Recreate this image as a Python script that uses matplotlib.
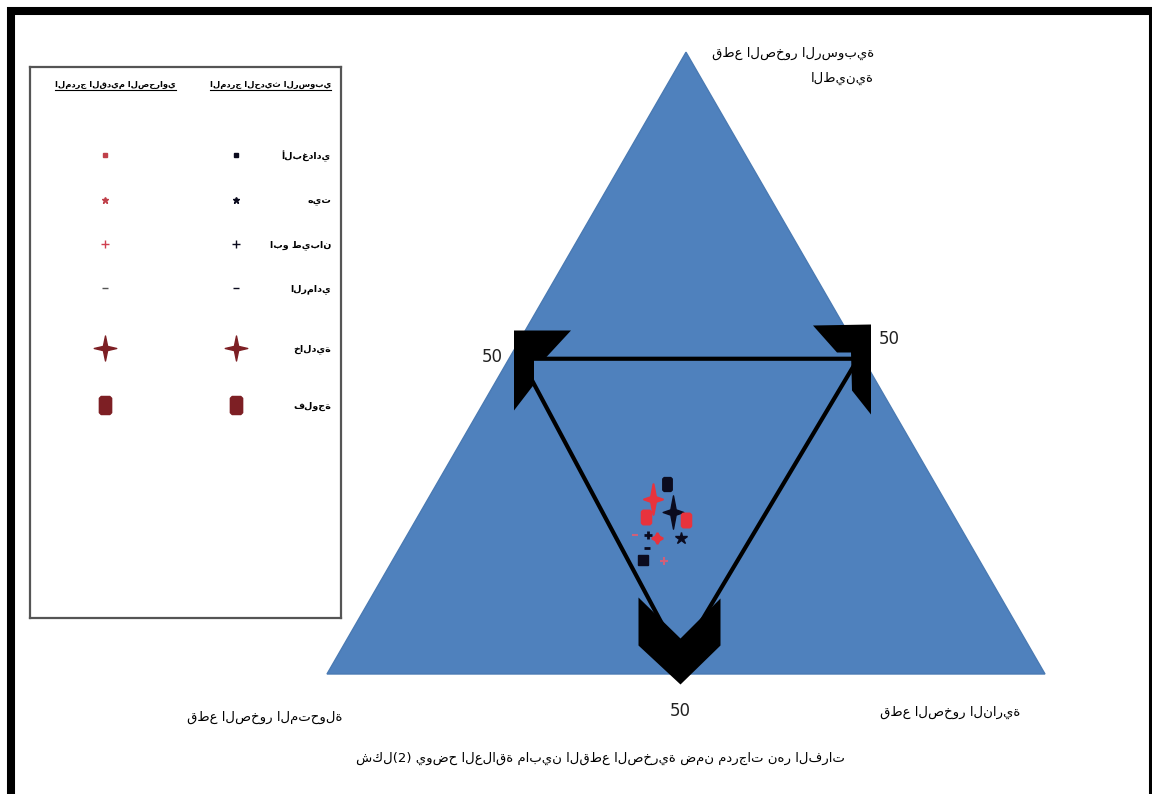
import numpy as np
import matplotlib
matplotlib.use('Agg')
import matplotlib.pyplot as plt
from matplotlib.path import Path
from matplotlib.patches import Polygon, Rectangle

plt.rcParams['font.family'] = ['DejaVu Sans']

# ---------------- data ----------------
sites = ['ألبغدادي', 'هيت', 'ابو طيبان', 'الرمادي', 'خالدية', 'فلوجة']
header_new = 'المدرج الحديث الرسوبي'
header_old = 'المدرج القديم الصحراوي'

# ternary compositions (%) : left = متحولة, right = نارية, top = رسوبية
new_left = [46.8, 39.8, 44.2, 45.3, 38.8, 37.3]
new_right = [34.8, 38.3, 33.5, 34.4, 35.1, 32.1]
new_top = [18.4, 21.9, 22.3, 20.3, 26.1, 30.6]

old_left = [43.0, 43.1, 44.0, 45.9, 40.6, 37.6]
old_right = [31.8, 35.1, 37.8, 31.7, 31.4, 37.6]
old_top = [25.2, 21.8, 18.2, 22.4, 28.1, 24.8]

# inner triangle joining the 50 % marks
inner_left = [47.7, 0.7, 49.5]
inner_right = [1.6, 48.6, 47.8]
inner_top = [50.7, 50.7, 2.7]

mark_labels = ['50', '50', '50']

label_top = 'قطع الصخور الرسوبية\nالطينية'
label_left = 'قطع الصخور المتحولة'
label_right = 'قطع الصخور النارية'
caption = 'شكل(2) يوضح العلاقة مابين القطع الصخرية ضمن مدرجات نهر الفرات'

# ---------------- geometry helpers ----------------
W, H = 1152, 794
S = 7.18          # px per ternary unit
X0, Y0 = 327, 674  # bottom-left corner of big triangle (px)


def tern(left, right, top):
    left, right, top = map(np.asarray, (left, right, top))
    tot = left + right + top
    r, t = right / tot * 100, top / tot * 100
    return r + t / 2, t * np.sqrt(3) / 2


def px(x, y):
    return x / W, 1 - y / H


def closed(verts):
    v = np.asarray(verts, float)
    v = np.vstack([v, v[:1]])
    codes = [Path.MOVETO] + [Path.LINETO] * (len(v) - 2) + [Path.CLOSEPOLY]
    return Path(v, codes)


def flag_marker(verts):
    # marker size in points so that the shape keeps its pixel size
    return closed(verts), 2 * np.abs(np.asarray(verts, float)).max() * 72 / 100


def four_star(wx, hy, k):
    return [(0, hy), (k, k), (wx, 0), (k, -k), (0, -hy), (-k, -k), (-wx, 0), (-k, k)]


def rounded_rect(wx, hy, c):
    return [(-wx + c, hy), (wx - c, hy), (wx, hy - c), (wx, -hy + c), (wx - c, -hy),
            (-wx + c, -hy), (-wx, -hy + c), (-wx, hy - c)]


star4_leg = closed(four_star(0.9, 1, 0.17))
star4_tall = closed(four_star(0.62, 1, 0.16))
rrect = closed(rounded_rect(0.68, 1, 0.2))

# flags at the 50% marks (shape in px relative to the mark)
flag_left, fl_size = flag_marker([(6.5, 33), (63.5, 33), (38.5, 6), (26.5, 6), (26.5, -21), (6.5, -47)])
flag_right, fr_size = flag_marker([(-53.5, 38), (4.5, 39), (4.5, -51), (-14.5, -27), (-15.5, 11), (-29.5, 11)])
flag_bottom, fb_size = flag_marker([(-48, 77), (-6, 36), (34, 76), (34, 29), (-6, -10), (-48, 29)])

# ---------------- figure ----------------
fig = plt.figure(figsize=(W / 100, H / 100), dpi=100)
fig.patch.set_facecolor('white')
ax = fig.add_axes([0, 0, 1, 1])
ax.set_xlim(-X0 / S, (W - X0) / S)
ax.set_ylim((Y0 - H) / S, Y0 / S)
ax.axis('off')

# big triangle
cx, cy = tern([100, 0, 0], [0, 100, 0], [0, 0, 100])
ax.add_patch(Polygon(np.column_stack([cx, cy]), closed=True, facecolor='#4F81BD',
                     edgecolor='#4a7ab3', lw=1, zorder=1))

# inner triangle
ix, iy = tern(inner_left, inner_right, inner_top)
ax.add_patch(Polygon(np.column_stack([ix, iy]), closed=True, fill=False,
                     edgecolor='black', lw=3, zorder=2))

# flags at the 50 % points
mx, my = tern([50, 0, 50], [0, 50, 50], [50, 50, 0])
for x, y, pth, sz in zip(mx, my, [flag_left, flag_right, flag_bottom], [fl_size, fr_size, fb_size]):
    ax.plot([x], [y], marker=pth, markersize=sz, color='black', mec='none', zorder=3)

# 50 labels
offs = [(-10, 4.5), (17, 17), (-4, -27)]
for x, y, t, o in zip(mx, my, mark_labels, offs):
    ax.annotate(t, (x, y), xytext=o, textcoords='offset points', ha='center', va='center',
                fontsize=12, color='#222222')

# data markers
nx, ny = tern(new_left, new_right, new_top)
ox, oy = tern(old_left, old_right, old_top)
black = '#0b0b1e'
red = '#e8333d'
new_markers = ['s', '*', '+', '_', star4_tall, rrect]
new_sizes = [7, 9, 6, 5, 24, 10]
new_widths = [1, 1, 2, 2, 1, 1]
for k in range(6):
    ax.plot(nx[k], ny[k], marker=new_markers[k], markersize=new_sizes[k], color=black,
            mew=new_widths[k], ls='none', zorder=4)
old_markers = [rrect, (4, 1, 0), '+', '_', star4_tall, rrect]
old_sizes = [10, 8, 6, 4, 22, 10]
old_colors = [red, red, '#d0607a', '#d0607a', red, red]
for k in range(6):
    ax.plot(ox[k], oy[k], marker=old_markers[k], markersize=old_sizes[k], color=old_colors[k],
            mew=1.5, ls='none', zorder=4)

# corner labels
fig.text(*px(712, 47), label_top, ha='left', va='top', multialignment='right',
         fontsize=9.5, linespacing=2.2)
fig.text(*px(265, 717), label_left, ha='center', va='center', fontsize=9.5)
fig.text(*px(950, 712), label_right, ha='center', va='center', fontsize=9.5)
fig.text(*px(600, 758), caption, ha='center', va='center', fontsize=9.5)

# outer frame
fig.add_artist(Rectangle(px(11, 796), (1153 - 11) / W, (796 - 11) / H, transform=fig.transFigure,
                         fill=False, edgecolor='black', lw=5.8))

# ---------------- legend box ----------------
lax = fig.add_axes([30 / W, 1 - 618 / H, 311 / W, 551 / H])
lax.set_xlim(30, 341)
lax.set_ylim(618, 67)
lax.set_xticks([])
lax.set_yticks([])
for sp in lax.spines.values():
    sp.set_color('#555555')
    sp.set_linewidth(1.6)

row_y = [155, 200, 244, 288, 348, 405]
col_new, col_old, col_lab = 236, 105, 331
dark = '#7d1f24'
leg_new = [('s', 3.2, black), ('*', 4.5, black), ('+', 6, black), ('_', 4, black),
           (star4_leg, 18, dark), (rrect, 13, dark)]
leg_old = [('s', 3.2, '#c0404a'), ('*', 4.5, '#c0404a'), ('+', 6, '#d04050'), ('_', 4, '#555555'),
           (star4_leg, 18, dark), (rrect, 13, dark)]
for y, name, a, b in zip(row_y, sites, leg_new, leg_old):
    lax.plot(col_new, y, marker=a[0], markersize=a[1], color=a[2], mew=1, ls='none')
    lax.plot(col_old, y, marker=b[0], markersize=b[1], color=b[2], mew=1, ls='none')
    lax.text(col_lab, y + 1, name, ha='right', va='center', fontsize=6.8, fontweight='bold')

hdrs = [lax.text(331, 84, header_new, ha='right', va='center', fontsize=6, fontweight='bold'),
        lax.text(176, 84, header_old, ha='right', va='center', fontsize=6, fontweight='bold')]
fig.canvas.draw()
inv = lax.transData.inverted()
for t in hdrs:
    bb = t.get_window_extent()
    (x1, y1), (x2, _) = inv.transform([[bb.x0, bb.y0], [bb.x1, bb.y0]])
    lax.plot([x1, x2], [y1 + 1.5, y1 + 1.5], color='black', lw=0.8)

fig.savefig('out.png', dpi=100)
